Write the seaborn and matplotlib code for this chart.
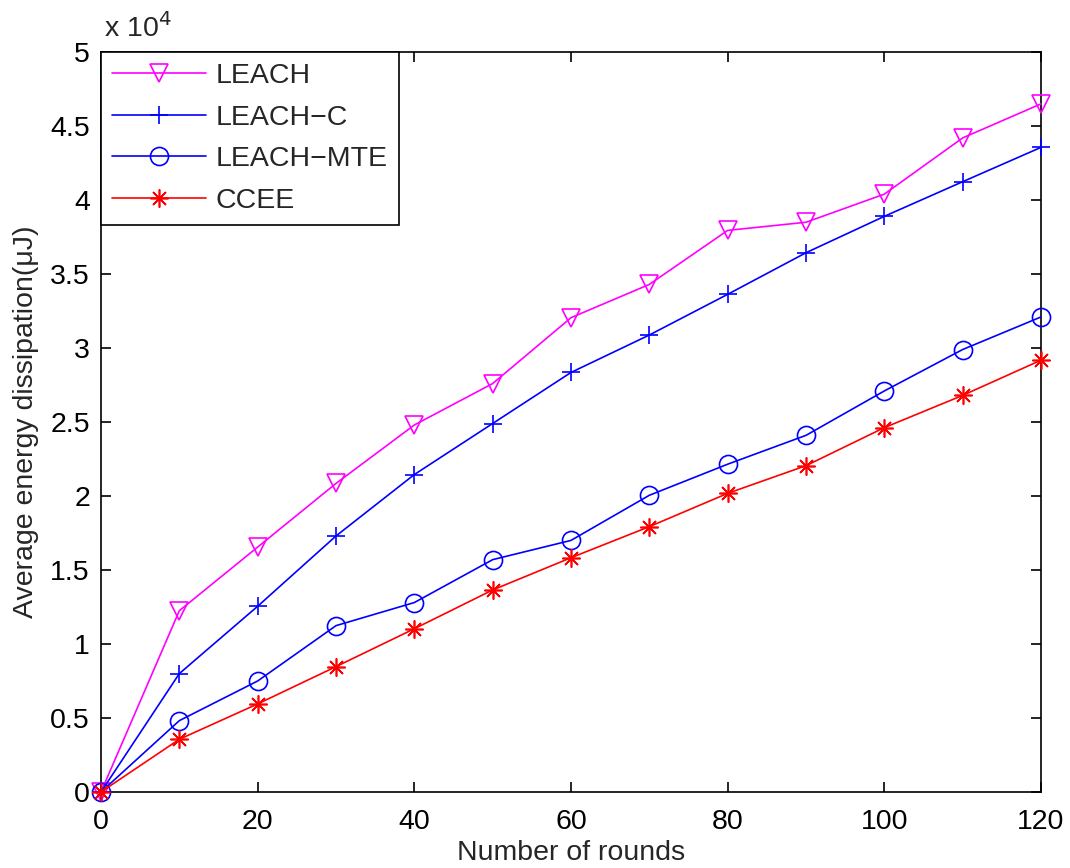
import numpy as np
import pandas as pd
import seaborn as sns
import matplotlib
matplotlib.use("Agg")
import matplotlib.pyplot as plt
from matplotlib.ticker import FuncFormatter, MultipleLocator

# Number of rounds
rounds = [0, 10, 20, 30, 40, 50, 60, 70, 80, 90, 100, 110, 120]

# Average energy dissipation (uJ) per protocol
leach = [0, 12250, 16550, 20850, 24800, 27600, 32050, 34300, 37950, 38500, 40400, 44200, 46500]
leach_c = [0, 8000, 12550, 17300, 21450, 24900, 28350, 30880, 33630, 36440, 38900, 41240, 43560]
leach_mte = [0, 4820, 7500, 11240, 12800, 15700, 17000, 20050, 22150, 24100, 27100, 29900, 32100]
ccee = [0, 3560, 5950, 8470, 11030, 13650, 15830, 17930, 20180, 22050, 24620, 26800, 29180]

labels = ["LEACH", "LEACH\u2212C", "LEACH\u2212MTE", "CCEE"]
colors = ["#ff00ff", "#0000ff", "#0000ff", "#ff0000"]
markers = ["v", "+", "o", (8, 2, 0)]
sizes = [13, 13, 13, 13]

df = pd.DataFrame({
    "rounds": rounds * 4,
    "energy": leach + leach_c + leach_mte + ccee,
    "protocol": [lab for lab in labels for _ in rounds],
})

sns.set_theme(style="ticks")
plt.rcParams["font.family"] = ["Liberation Sans", "DejaVu Sans"]
plt.rcParams["axes.unicode_minus"] = True

fig = plt.figure(figsize=(10.70, 8.68), dpi=100)
ax = fig.add_axes([0.0944, 0.0876, 0.8785, 0.8524])

for lab, col, mk, ms in zip(labels, colors, markers, sizes):
    sub = df[df["protocol"] == lab]
    sns.lineplot(data=sub, x="rounds", y="energy", ax=ax, color=col,
                 marker=mk, markersize=ms, markerfacecolor="none",
                 markeredgecolor=col, markeredgewidth=1.2, linewidth=1.2,
                 label=lab, estimator=None, sort=False, clip_on=False,
                 zorder=3)

ax.set_xlim(0, 120)
ax.set_ylim(0, 50000)
ax.xaxis.set_major_locator(MultipleLocator(20))
ax.yaxis.set_major_locator(MultipleLocator(5000))
ax.yaxis.set_major_formatter(FuncFormatter(lambda v, p: f"{v / 1e4:g}"))

fs = 20.5
ax.tick_params(direction="in", length=7, width=1.2, top=True, right=True,
               labelsize=fs, colors="black")
ax.tick_params(axis="x", pad=12)
ax.tick_params(axis="y", pad=8)
for sp in ax.spines.values():
    sp.set_linewidth(1.2)
    sp.set_color("black")
    sp.set_visible(True)

ax.set_xlabel("Number of rounds", fontsize=fs, labelpad=4)
ax.set_ylabel("Average energy dissipation(\u03bcJ)", fontsize=fs, labelpad=8)
ax.text(0.003, 1.012, r"x 10$^4$", transform=ax.transAxes, fontsize=fs,
        ha="left", va="bottom")

leg = ax.legend(loc="upper left", borderaxespad=0, fontsize=fs,
                handlelength=3.3, handletextpad=0.35, labelspacing=0.55,
                borderpad=0.38, fancybox=False, frameon=True)
leg.get_frame().set_edgecolor("black")
leg.get_frame().set_linewidth(1.2)
leg.get_frame().set_alpha(1)
leg.set_zorder(5)

fig.savefig("out.png", dpi=100)
